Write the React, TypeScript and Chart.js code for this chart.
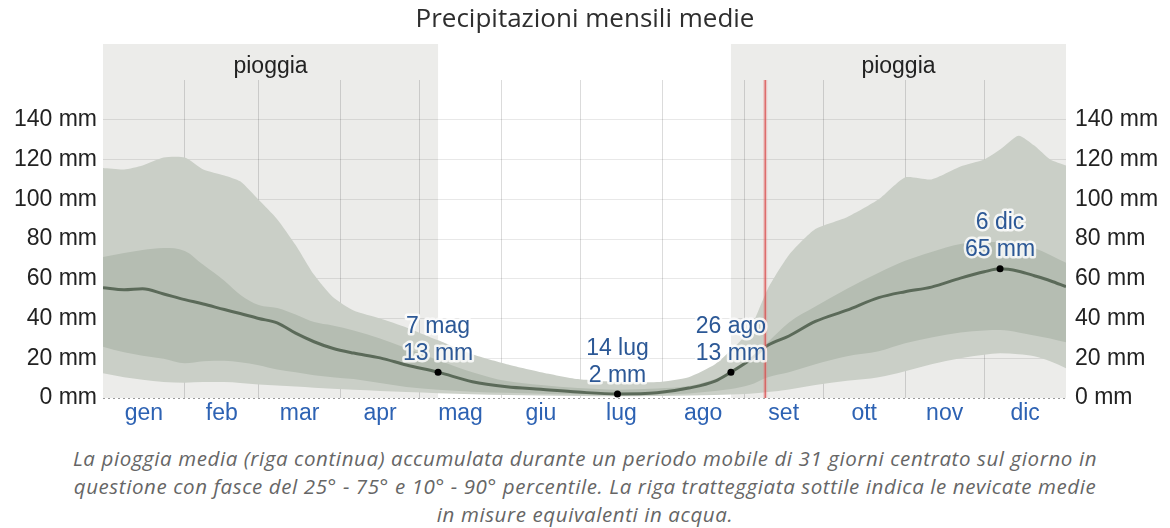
import React, { useEffect, useRef } from 'react';
import { Chart, registerables } from 'chart.js';

Chart.register(...registerables);

const title = 'Precipitazioni mensili medie';
const months = ['gen', 'feb', 'mar', 'apr', 'mag', 'giu', 'lug', 'ago', 'set', 'ott', 'nov', 'dic'];
const monthMid = [15.5, 45, 74.5, 105, 135.5, 166, 196.5, 227.5, 258, 288.5, 319, 349.5];
const monthBoundaries = [31, 59, 90, 120, 151, 181, 212, 243, 273, 304, 334];
const yTicks = [0, 20, 40, 60, 80, 100, 120, 140];

const days = [0, 8, 15, 23, 31, 38, 46, 52, 59, 66, 73, 80, 87, 95, 105, 115, 127, 140, 153, 166, 180, 195, 210, 222, 232, 238, 245, 252, 260, 270, 282, 294, 304, 314, 325, 334, 340, 347, 353, 359, 365];
const p90 = [115.7, 115, 117, 121, 121, 115, 112, 109, 99.7, 90, 77, 62, 51, 44, 40, 35.5, 29, 22, 17, 13, 9.5, 8, 8, 10.5, 17, 24, 34, 55, 72, 85, 91, 100, 111, 110, 116.5, 120, 125, 132, 127, 120, 117];
const p75 = [71, 73, 74.5, 75.5, 74, 67, 59, 52, 46.8, 45.3, 42, 38.2, 36.5, 34, 30, 25, 19, 13, 8.5, 6.5, 5, 4.2, 4.8, 6, 9.5, 13, 18.5, 28, 38, 46, 55, 63, 69, 73.5, 77.5, 78.5, 78.5, 78, 75.5, 72, 68];
const mean = [55.5, 54.5, 55, 52.3, 49.5, 47.3, 44.5, 42.5, 40, 37.8, 32.6, 28.3, 25, 22.6, 20.2, 16.6, 13, 8.2, 5.7, 4.4, 3, 2, 2.6, 5, 8.5, 13, 19, 26.5, 31.2, 38.5, 44.2, 50.5, 53.5, 55.8, 60.3, 63.5, 65, 63.8, 61.5, 59, 56];
const p25 = [25.8, 23, 21.3, 19.8, 17.5, 18.5, 18.8, 18, 16.5, 14.3, 13, 11.5, 10.5, 9.5, 7.5, 5.5, 4.2, 3.2, 2.6, 2.2, 1.8, 1.5, 1.8, 2.3, 3.5, 4.5, 6.5, 10.5, 13, 17, 21, 23.5, 27.5, 30.5, 33, 34, 34.2, 33, 31.5, 30, 28];
const p10 = [12.4, 10.5, 9.2, 8, 7.7, 8, 8, 7.5, 6.8, 6.3, 5.8, 5.2, 4.6, 4.1, 3.5, 3, 2.4, 1.9, 1.5, 1.2, 1, 0.9, 1, 1.2, 1.5, 1.8, 2.2, 3, 4.3, 6.5, 8.7, 10.5, 13.5, 17, 20, 21.8, 22.5, 22, 21, 18.5, 15];

const rainSeasons = [[0, 127], [238, 365]];
const rainLabel = 'pioggia';
const todayDay = 251;

const annotDays = [127, 195, 238, 340];
const annotValues = [13, 2, 13, 65];
const annotDates = ['7 mag', '14 lug', '26 ago', '6 dic'];

const captionLines = [
  'La pioggia media (riga continua) accumulata durante un periodo mobile di 31 giorni centrato sul giorno in',
  'questione con fasce del 25° - 75° e 10° - 90° percentile. La riga tratteggiata sottile indica le nevicate medie',
  'in misure equivalenti in acqua.',
];

const ARIAL = '"Liberation Sans", Arial, sans-serif';

const pts = (arr: number[]) => days.map((d, i) => ({ x: d, y: arr[i] }));

const decorPlugin = {
  id: 'decor',
  beforeDraw(chart: any) {
    const { ctx, chartArea, scales } = chart;
    const x = scales.x;
    ctx.save();
    ctx.font = `23px ${ARIAL}`;
    rainSeasons.forEach(([a, b]) => {
      const x1 = x.getPixelForValue(a);
      const x2 = x.getPixelForValue(b);
      ctx.fillStyle = '#ececea';
      ctx.fillRect(x1, 44, x2 - x1, chartArea.bottom - 44);
      ctx.fillStyle = '#222';
      ctx.textAlign = 'center';
      ctx.textBaseline = 'alphabetic';
      ctx.fillText(rainLabel, (x1 + x2) / 2, 73);
    });
    ctx.fillStyle = '#2e2e2e';
    ctx.font = '26px "Open Sans", sans-serif';
    ctx.textAlign = 'center';
    ctx.textBaseline = 'alphabetic';
    ctx.fillText(title, chart.width / 2, 27);
    ctx.restore();
  },
  afterDraw(chart: any) {
    const { ctx, chartArea, scales } = chart;
    const x = scales.x;
    const y = scales.y;
    ctx.save();
    const y0 = y.getPixelForValue(0);
    ctx.strokeStyle = '#9a9a9a';
    ctx.lineWidth = 1;
    ctx.setLineDash([2, 3]);
    ctx.beginPath();
    ctx.moveTo(chartArea.left, y0 + 0.5);
    ctx.lineTo(chartArea.right, y0 + 0.5);
    ctx.stroke();
    ctx.setLineDash([]);
    const xt = x.getPixelForValue(todayDay);
    ctx.strokeStyle = 'rgba(235,130,130,0.35)';
    ctx.lineWidth = 4;
    ctx.beginPath();
    ctx.moveTo(xt, chartArea.top);
    ctx.lineTo(xt, chartArea.bottom);
    ctx.stroke();
    ctx.strokeStyle = 'rgba(215,70,70,0.85)';
    ctx.lineWidth = 1.2;
    ctx.beginPath();
    ctx.moveTo(xt, chartArea.top);
    ctx.lineTo(xt, chartArea.bottom);
    ctx.stroke();
    ctx.font = `23px ${ARIAL}`;
    ctx.textAlign = 'center';
    ctx.textBaseline = 'alphabetic';
    ctx.lineJoin = 'round';
    annotDays.forEach((d, i) => {
      const px = x.getPixelForValue(d);
      const py = y.getPixelForValue(annotValues[i]);
      const lines = [annotDates[i], `${annotValues[i]} mm`];
      const offs = [39.5, 12.5];
      lines.forEach((t, k) => {
        ctx.strokeStyle = 'rgba(255,255,255,0.8)';
        ctx.lineWidth = 5;
        ctx.strokeText(t, px, py - offs[k]);
      });
      lines.forEach((t, k) => {
        ctx.fillStyle = '#2c5896';
        ctx.fillText(t, px, py - offs[k]);
      });
    });
    ctx.restore();
  },
};

export default function App() {
  const ref = useRef<HTMLCanvasElement>(null);

  useEffect(() => {
    if (!ref.current) return;
    const chart = new Chart(ref.current, {
      type: 'line',
      data: {
        datasets: [
          {
            label: 'p90',
            data: pts(p90),
            borderColor: 'rgba(0,0,0,0)',
            borderWidth: 0,
            pointRadius: 0,
            backgroundColor: '#cacfc7',
            fill: 4,
            order: 3,
            tension: 0.2,
          },
          {
            label: 'p75',
            data: pts(p75),
            borderColor: 'rgba(0,0,0,0)',
            borderWidth: 0,
            pointRadius: 0,
            backgroundColor: '#b5bdb2',
            fill: 3,
            order: 2,
            cubicInterpolationMode: 'monotone',
          },
          {
            label: 'media',
            data: pts(mean),
            borderColor: '#5b6a59',
            borderWidth: 3,
            pointRadius: 0,
            fill: false,
            order: 1,
            cubicInterpolationMode: 'monotone',
          },
          {
            label: 'p25',
            data: pts(p25),
            borderColor: 'rgba(0,0,0,0)',
            borderWidth: 0,
            pointRadius: 0,
            fill: false,
            order: 3,
            cubicInterpolationMode: 'monotone',
          },
          {
            label: 'p10',
            data: pts(p10),
            borderColor: 'rgba(0,0,0,0)',
            borderWidth: 0,
            pointRadius: 0,
            fill: false,
            order: 3,
            cubicInterpolationMode: 'monotone',
          },
          {
            label: 'punti',
            data: annotDays.map((d, i) => ({ x: d, y: annotValues[i] })),
            showLine: false,
            pointRadius: 3.5,
            pointBackgroundColor: '#000',
            pointBorderWidth: 0,
            fill: false,
            order: 0,
          },
        ] as any,
      },
      options: {
        responsive: false,
        animation: false,
        devicePixelRatio: 1,
        layout: { padding: { top: 80, left: 0, right: 0, bottom: 0 } },
        plugins: {
          legend: { display: false },
          tooltip: { enabled: false },
          title: { display: false },
        },
        scales: {
          xGrid: {
            type: 'linear',
            position: 'bottom',
            min: 0,
            max: 365,
            z: 1,
            afterBuildTicks: (s: any) => {
              s.ticks = monthBoundaries.map((v) => ({ value: v }));
            },
            afterFit: (s: any) => {
              s.height = 0;
            },
            grid: { color: 'rgba(0,0,0,0.14)', drawTicks: false, lineWidth: 1 },
            ticks: { display: false },
            border: { display: false },
          },
          x: {
            type: 'linear',
            position: 'bottom',
            min: 0,
            max: 365,
            afterBuildTicks: (s: any) => {
              s.ticks = monthMid.map((v) => ({ value: v }));
            },
            afterFit: (s: any) => {
              s.height = 32;
            },
            grid: { display: false, drawTicks: false },
            border: { display: false },
            ticks: {
              autoSkip: false,
              maxRotation: 0,
              padding: 2,
              color: '#2d62b3',
              font: { family: ARIAL, size: 23 },
              callback: (_v: any, i: number) => months[i],
            },
          },
          y: {
            type: 'linear',
            position: 'left',
            min: 0,
            max: 160,
            z: 1,
            afterBuildTicks: (s: any) => {
              s.ticks = yTicks.map((v) => ({ value: v }));
            },
            afterFit: (s: any) => {
              s.width = 103;
            },
            grid: {
              drawTicks: false,
              color: (c: any) => (c.tick && c.tick.value === 0 ? 'rgba(0,0,0,0)' : 'rgba(0,0,0,0.09)'),
            },
            border: { display: false },
            ticks: {
              padding: 6,
              color: '#222',
              font: { family: ARIAL, size: 23 },
              callback: (v: any) => `${v} mm`,
            },
          },
          y2: {
            type: 'linear',
            position: 'right',
            min: 0,
            max: 160,
            afterBuildTicks: (s: any) => {
              s.ticks = yTicks.map((v) => ({ value: v }));
            },
            afterFit: (s: any) => {
              s.width = 104;
            },
            grid: { display: false, drawTicks: false },
            border: { display: false },
            ticks: {
              padding: 9,
              color: '#222',
              font: { family: ARIAL, size: 23 },
              callback: (v: any) => `${v} mm`,
            },
          },
        } as any,
      },
      plugins: [decorPlugin],
    });
    return () => chart.destroy();
  }, []);

  return (
    <div style={{ position: 'fixed', left: 0, top: 0, width: 1170, height: 528, background: '#fff', overflow: 'hidden' }}>
      <canvas ref={ref} width={1170} height={430} style={{ display: 'block', width: 1170, height: 430 }} />
      <div
        style={{
          position: 'absolute',
          left: 0,
          top: 444,
          width: 1170,
          textAlign: 'center',
          fontFamily: '"Open Sans", sans-serif',
          fontStyle: 'italic',
          fontSize: '20.5px',
          letterSpacing: '0.6px',
          lineHeight: '28px',
          color: '#666',
          whiteSpace: 'nowrap',
        }}
      >
        {captionLines.map((l, i) => (
          <div key={i}>{l}</div>
        ))}
      </div>
    </div>
  );
}
